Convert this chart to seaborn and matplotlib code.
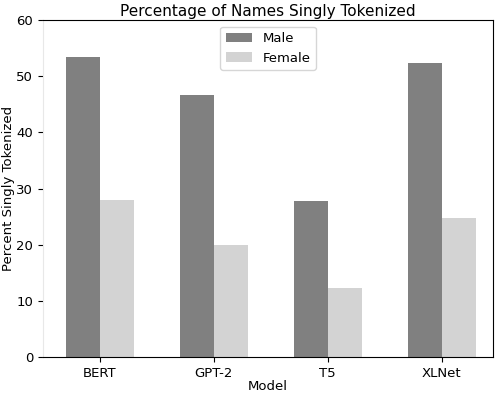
import pandas as pd
import matplotlib
matplotlib.use("Agg")
import matplotlib.pyplot as plt
import seaborn as sns

models = ["BERT", "GPT-2", "T5", "XLNet"]
male = [53.5, 46.7, 27.8, 52.4]
female = [28.0, 20.0, 12.2, 24.8]

df = pd.DataFrame({
    "Model": models * 2,
    "Percent": male + female,
    "Gender": ["Male"] * len(models) + ["Female"] * len(models),
})

sns.set_style("ticks", {"text.color": "black", "axes.labelcolor": "black",
                        "xtick.color": "black", "ytick.color": "black"})
plt.rcParams["font.family"] = ["DejaVu Sans"]

fig = plt.figure(figsize=(5, 3.94), dpi=100)
ax = fig.add_axes([0.086, 0.094, 0.9, 0.855])

sns.barplot(
    data=df, x="Model", y="Percent", hue="Gender",
    palette={"Male": "gray", "Female": "lightgray"},
    width=0.6, saturation=1, linewidth=0, ax=ax,
)

ax.set_ylim(0, 60)
ax.set_xlim(-0.5, 3.45)
ax.set_yticks(range(0, 61, 10))
ax.set_title("Percentage of Names Singly Tokenized", fontsize=11, pad=3)
ax.set_xlabel("Model", fontsize=9.5, labelpad=0)
ax.set_ylabel("Percent Singly Tokenized", fontsize=9.5, labelpad=1)
ax.tick_params(labelsize=9.5)
ax.spines["left"].set_color("#e8e8e8")
for s in ["top", "right", "bottom"]:
    ax.spines[s].set_visible(True)
    ax.spines[s].set_color("black")

ax.legend(title=None, loc="upper center", fontsize=9.5)

fig.savefig("out.png", dpi=100)
plt.close(fig)
